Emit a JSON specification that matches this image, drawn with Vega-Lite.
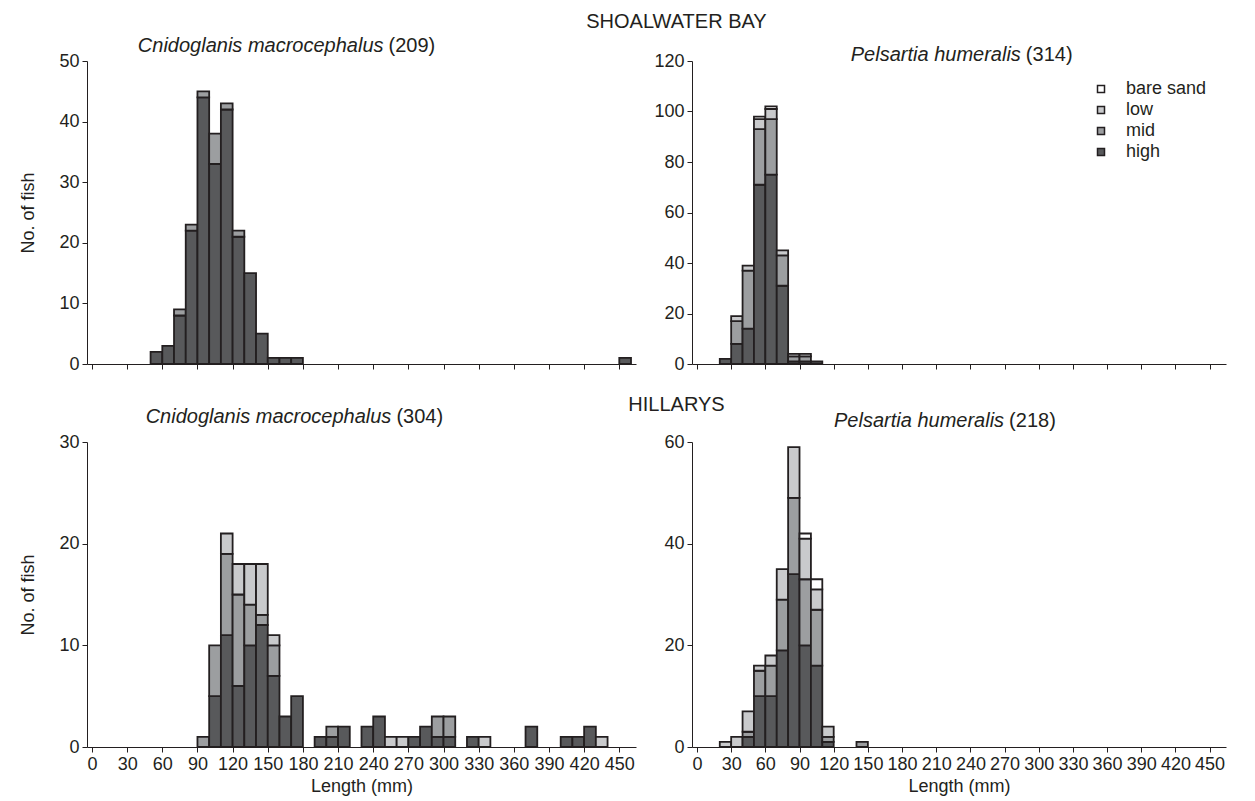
{
  "$schema": "https://vega.github.io/schema/vega-lite/v6.json",
  "background": "white",
  "padding": {"left": 19, "top": 12, "right": 5, "bottom": 2},
  "config": {
    "font": "Liberation Sans",
    "view": {"stroke": null},
    "axis": {"grid": false, "domainColor": "#231f20", "tickColor": "#231f20", "labelColor": "#231f20", "titleColor": "#231f20", "labelFontSize": 18, "titleFontSize": 18, "titleFontWeight": "normal", "tickSize": 5, "labelPadding": 3, "labelFlush": false, "labelOverlap": false},
    "text": {"color": "#231f20", "fontSize": 20, "font": "Liberation Sans"}
  },
  "datasets": {
    "sbC": [
      {"lo": 50, "hi": 60, "hab": "high", "n": 2},
      {"lo": 60, "hi": 70, "hab": "high", "n": 3},
      {"lo": 70, "hi": 80, "hab": "high", "n": 8}, {"lo": 70, "hi": 80, "hab": "mid", "n": 1},
      {"lo": 80, "hi": 90, "hab": "high", "n": 22}, {"lo": 80, "hi": 90, "hab": "mid", "n": 1},
      {"lo": 90, "hi": 100, "hab": "high", "n": 44}, {"lo": 90, "hi": 100, "hab": "mid", "n": 1},
      {"lo": 100, "hi": 110, "hab": "high", "n": 33}, {"lo": 100, "hi": 110, "hab": "mid", "n": 5},
      {"lo": 110, "hi": 120, "hab": "high", "n": 42}, {"lo": 110, "hi": 120, "hab": "mid", "n": 1},
      {"lo": 120, "hi": 130, "hab": "high", "n": 21}, {"lo": 120, "hi": 130, "hab": "mid", "n": 1},
      {"lo": 130, "hi": 140, "hab": "high", "n": 15},
      {"lo": 140, "hi": 150, "hab": "high", "n": 5},
      {"lo": 150, "hi": 160, "hab": "high", "n": 1},
      {"lo": 160, "hi": 170, "hab": "high", "n": 1},
      {"lo": 170, "hi": 180, "hab": "high", "n": 1},
      {"lo": 450, "hi": 460, "hab": "high", "n": 1}
    ],
    "sbP": [
      {"lo": 20, "hi": 30, "hab": "high", "n": 2},
      {"lo": 30, "hi": 40, "hab": "high", "n": 8}, {"lo": 30, "hi": 40, "hab": "mid", "n": 9}, {"lo": 30, "hi": 40, "hab": "low", "n": 2},
      {"lo": 40, "hi": 50, "hab": "high", "n": 14}, {"lo": 40, "hi": 50, "hab": "mid", "n": 23}, {"lo": 40, "hi": 50, "hab": "low", "n": 2},
      {"lo": 50, "hi": 60, "hab": "high", "n": 71}, {"lo": 50, "hi": 60, "hab": "mid", "n": 22}, {"lo": 50, "hi": 60, "hab": "low", "n": 4}, {"lo": 50, "hi": 60, "hab": "bare sand", "n": 1},
      {"lo": 60, "hi": 70, "hab": "high", "n": 75}, {"lo": 60, "hi": 70, "hab": "mid", "n": 22}, {"lo": 60, "hi": 70, "hab": "low", "n": 4}, {"lo": 60, "hi": 70, "hab": "bare sand", "n": 1},
      {"lo": 70, "hi": 80, "hab": "high", "n": 31}, {"lo": 70, "hi": 80, "hab": "mid", "n": 12}, {"lo": 70, "hi": 80, "hab": "low", "n": 2},
      {"lo": 80, "hi": 90, "hab": "high", "n": 1}, {"lo": 80, "hi": 90, "hab": "mid", "n": 2}, {"lo": 80, "hi": 90, "hab": "low", "n": 1},
      {"lo": 90, "hi": 100, "hab": "high", "n": 1}, {"lo": 90, "hi": 100, "hab": "mid", "n": 2}, {"lo": 90, "hi": 100, "hab": "low", "n": 1},
      {"lo": 100, "hi": 110, "hab": "high", "n": 1}
    ],
    "hC": [
      {"lo": 90, "hi": 100, "hab": "mid", "n": 1},
      {"lo": 100, "hi": 110, "hab": "high", "n": 5}, {"lo": 100, "hi": 110, "hab": "mid", "n": 5},
      {"lo": 110, "hi": 120, "hab": "high", "n": 11}, {"lo": 110, "hi": 120, "hab": "mid", "n": 8}, {"lo": 110, "hi": 120, "hab": "low", "n": 2},
      {"lo": 120, "hi": 130, "hab": "high", "n": 6}, {"lo": 120, "hi": 130, "hab": "mid", "n": 9}, {"lo": 120, "hi": 130, "hab": "low", "n": 3},
      {"lo": 130, "hi": 140, "hab": "high", "n": 10}, {"lo": 130, "hi": 140, "hab": "mid", "n": 4}, {"lo": 130, "hi": 140, "hab": "low", "n": 4},
      {"lo": 140, "hi": 150, "hab": "high", "n": 12}, {"lo": 140, "hi": 150, "hab": "mid", "n": 1}, {"lo": 140, "hi": 150, "hab": "low", "n": 5},
      {"lo": 150, "hi": 160, "hab": "high", "n": 7}, {"lo": 150, "hi": 160, "hab": "mid", "n": 3}, {"lo": 150, "hi": 160, "hab": "low", "n": 1},
      {"lo": 160, "hi": 170, "hab": "high", "n": 3},
      {"lo": 170, "hi": 180, "hab": "high", "n": 5},
      {"lo": 190, "hi": 200, "hab": "high", "n": 1},
      {"lo": 200, "hi": 210, "hab": "high", "n": 1}, {"lo": 200, "hi": 210, "hab": "mid", "n": 1},
      {"lo": 210, "hi": 220, "hab": "high", "n": 2},
      {"lo": 230, "hi": 240, "hab": "high", "n": 2},
      {"lo": 240, "hi": 250, "hab": "high", "n": 3},
      {"lo": 250, "hi": 260, "hab": "low", "n": 1},
      {"lo": 260, "hi": 270, "hab": "low", "n": 1},
      {"lo": 270, "hi": 280, "hab": "high", "n": 1},
      {"lo": 280, "hi": 290, "hab": "high", "n": 2},
      {"lo": 290, "hi": 300, "hab": "high", "n": 1}, {"lo": 290, "hi": 300, "hab": "mid", "n": 2},
      {"lo": 300, "hi": 310, "hab": "high", "n": 1}, {"lo": 300, "hi": 310, "hab": "mid", "n": 2},
      {"lo": 320, "hi": 330, "hab": "high", "n": 1},
      {"lo": 330, "hi": 340, "hab": "low", "n": 1},
      {"lo": 370, "hi": 380, "hab": "high", "n": 2},
      {"lo": 400, "hi": 410, "hab": "high", "n": 1},
      {"lo": 410, "hi": 420, "hab": "high", "n": 1},
      {"lo": 420, "hi": 430, "hab": "high", "n": 2},
      {"lo": 430, "hi": 440, "hab": "low", "n": 1}
    ],
    "hP": [
      {"lo": 20, "hi": 30, "hab": "low", "n": 1},
      {"lo": 30, "hi": 40, "hab": "low", "n": 2},
      {"lo": 40, "hi": 50, "hab": "high", "n": 2}, {"lo": 40, "hi": 50, "hab": "mid", "n": 1}, {"lo": 40, "hi": 50, "hab": "low", "n": 4},
      {"lo": 50, "hi": 60, "hab": "high", "n": 10}, {"lo": 50, "hi": 60, "hab": "mid", "n": 5}, {"lo": 50, "hi": 60, "hab": "low", "n": 1},
      {"lo": 60, "hi": 70, "hab": "high", "n": 10}, {"lo": 60, "hi": 70, "hab": "mid", "n": 6}, {"lo": 60, "hi": 70, "hab": "low", "n": 2},
      {"lo": 70, "hi": 80, "hab": "high", "n": 19}, {"lo": 70, "hi": 80, "hab": "mid", "n": 10}, {"lo": 70, "hi": 80, "hab": "low", "n": 6},
      {"lo": 80, "hi": 90, "hab": "high", "n": 34}, {"lo": 80, "hi": 90, "hab": "mid", "n": 15}, {"lo": 80, "hi": 90, "hab": "low", "n": 10},
      {"lo": 90, "hi": 100, "hab": "high", "n": 20}, {"lo": 90, "hi": 100, "hab": "mid", "n": 13}, {"lo": 90, "hi": 100, "hab": "low", "n": 8}, {"lo": 90, "hi": 100, "hab": "bare sand", "n": 1},
      {"lo": 100, "hi": 110, "hab": "high", "n": 16}, {"lo": 100, "hi": 110, "hab": "mid", "n": 11}, {"lo": 100, "hi": 110, "hab": "low", "n": 4}, {"lo": 100, "hi": 110, "hab": "bare sand", "n": 2},
      {"lo": 110, "hi": 120, "hab": "high", "n": 1}, {"lo": 110, "hi": 120, "hab": "mid", "n": 1}, {"lo": 110, "hi": 120, "hab": "low", "n": 2},
      {"lo": 140, "hi": 150, "hab": "mid", "n": 1}
    ]
  },
  "columns": 2,
  "bounds": "flush",
  "spacing": {"row": 78, "column": 56},
  "resolve": {"scale": {"color": "independent"}, "legend": {"color": "independent"}},
  "concat": [
    {
      "width": 549, "height": 303,
      "layer": [
        {
          "data": {"name": "sbC"},
          "transform": [{"calculate": "indexof(['high','mid','low','bare sand'], datum.hab)", "as": "ord"}],
          "mark": {"type": "bar", "orient": "vertical", "stroke": "#231f20", "strokeWidth": 1.8},
          "encoding": {
            "x": {"field": "lo", "type": "quantitative", "scale": {"domain": [0, 460], "nice": false, "zero": true}, "axis": {"values": [0,30,60,90,120,150,180,210,240,270,300,330,360,390,420,450], "tickCount": 20, "labels": false, "title": null}},
            "x2": {"field": "hi"},
            "y": {"field": "n", "type": "quantitative", "stack": "zero", "scale": {"domain": [0, 50], "nice": false}, "axis": {"values": [0,10,20,30,40,50], "title": "No. of fish", "titlePadding": 21}},
            "color": {"field": "hab", "type": "nominal", "scale": {"domain": ["bare sand", "low", "mid", "high"], "range": ["#ffffff", "#c9cacc", "#9c9ea0", "#58595b"]}, "legend": null},
            "order": {"field": "ord", "type": "quantitative"}
          }
        },
        {"data": {"values": [{}]}, "mark": {"type": "text", "text": "Cnidoglanis macrocephalus", "fontStyle": "italic", "align": "right", "baseline": "middle"}, "encoding": {"x": {"datum": 248.8}, "y": {"datum": 52.5}}},
        {"data": {"values": [{}]}, "mark": {"type": "text", "text": "(209)", "align": "left", "baseline": "middle", "dx": 5}, "encoding": {"x": {"datum": 248.8}, "y": {"datum": 52.5}}},
        {"data": {"values": [{}]}, "mark": {"type": "text", "text": "SHOALWATER BAY", "align": "center", "baseline": "middle"}, "encoding": {"x": {"datum": 498.8}, "y": {"datum": 56.4}}}
      ]
    },
    {
      "width": 534, "height": 303,
      "layer": [
        {
          "data": {"name": "sbP"},
          "transform": [{"calculate": "indexof(['high','mid','low','bare sand'], datum.hab)", "as": "ord"}],
          "mark": {"type": "bar", "orient": "vertical", "stroke": "#231f20", "strokeWidth": 1.8},
          "encoding": {
            "x": {"field": "lo", "type": "quantitative", "scale": {"domain": [0, 460], "nice": false}, "axis": {"values": [0,30,60,90,120,150,180,210,240,270,300,330,360,390,420,450], "tickCount": 20, "labels": false, "title": null}},
            "x2": {"field": "hi"},
            "y": {"field": "n", "type": "quantitative", "stack": "zero", "scale": {"domain": [0, 120], "nice": false}, "axis": {"values": [0,20,40,60,80,100,120], "title": null}},
            "color": {"field": "hab", "type": "nominal", "scale": {"domain": ["bare sand", "low", "mid", "high"], "range": ["#ffffff", "#c9cacc", "#9c9ea0", "#58595b"]},
              "legend": {"title": null, "orient": "top-right", "offset": 19, "padding": 0, "symbolType": "square", "symbolSize": 49, "symbolStrokeColor": "#231f20", "symbolStrokeWidth": 1.5, "labelFontSize": 18, "labelColor": "#231f20", "rowPadding": 3, "labelOffset": 16}},
            "order": {"field": "ord", "type": "quantitative"}
          }
        },
        {"data": {"values": [{}]}, "mark": {"type": "text", "text": "Pelsartia humeralis", "fontStyle": "italic", "align": "right", "baseline": "middle"}, "encoding": {"x": {"datum": 284.3}, "y": {"datum": 122.4}}},
        {"data": {"values": [{}]}, "mark": {"type": "text", "text": "(314)", "align": "left", "baseline": "middle", "dx": 5}, "encoding": {"x": {"datum": 284.3}, "y": {"datum": 122.4}}}
      ]
    },
    {
      "width": 549, "height": 305,
      "layer": [
        {
          "data": {"name": "hC"},
          "transform": [{"calculate": "indexof(['high','mid','low','bare sand'], datum.hab)", "as": "ord"}],
          "mark": {"type": "bar", "orient": "vertical", "stroke": "#231f20", "strokeWidth": 1.8},
          "encoding": {
            "x": {"field": "lo", "type": "quantitative", "scale": {"domain": [0, 460], "nice": false}, "axis": {"values": [0,30,60,90,120,150,180,210,240,270,300,330,360,390,420,450], "tickCount": 20, "title": "Length (mm)", "titlePadding": 4}},
            "x2": {"field": "hi"},
            "y": {"field": "n", "type": "quantitative", "stack": "zero", "scale": {"domain": [0, 30], "nice": false}, "axis": {"values": [0,10,20,30], "title": "No. of fish", "titlePadding": 21}},
            "color": {"field": "hab", "type": "nominal", "scale": {"domain": ["bare sand", "low", "mid", "high"], "range": ["#ffffff", "#c9cacc", "#9c9ea0", "#58595b"]}, "legend": null},
            "order": {"field": "ord", "type": "quantitative"}
          }
        },
        {"data": {"values": [{}]}, "mark": {"type": "text", "text": "Cnidoglanis macrocephalus", "fontStyle": "italic", "align": "right", "baseline": "middle"}, "encoding": {"x": {"datum": 255.5}, "y": {"datum": 32.46}}},
        {"data": {"values": [{}]}, "mark": {"type": "text", "text": "(304)", "align": "left", "baseline": "middle", "dx": 5}, "encoding": {"x": {"datum": 255.5}, "y": {"datum": 32.46}}},
        {"data": {"values": [{}]}, "mark": {"type": "text", "text": "HILLARYS", "align": "center", "baseline": "middle"}, "encoding": {"x": {"datum": 498.8}, "y": {"datum": 33.64}}}
      ]
    },
    {
      "width": 534, "height": 305,
      "layer": [
        {
          "data": {"name": "hP"},
          "transform": [{"calculate": "indexof(['high','mid','low','bare sand'], datum.hab)", "as": "ord"}],
          "mark": {"type": "bar", "orient": "vertical", "stroke": "#231f20", "strokeWidth": 1.8},
          "encoding": {
            "x": {"field": "lo", "type": "quantitative", "scale": {"domain": [0, 460], "nice": false}, "axis": {"values": [0,30,60,90,120,150,180,210,240,270,300,330,360,390,420,450], "tickCount": 20, "title": "Length (mm)", "titlePadding": 4}},
            "x2": {"field": "hi"},
            "y": {"field": "n", "type": "quantitative", "stack": "zero", "scale": {"domain": [0, 60], "nice": false}, "axis": {"values": [0,20,40,60], "title": null}},
            "color": {"field": "hab", "type": "nominal", "scale": {"domain": ["bare sand", "low", "mid", "high"], "range": ["#ffffff", "#c9cacc", "#9c9ea0", "#58595b"]}, "legend": null},
            "order": {"field": "ord", "type": "quantitative"}
          }
        },
        {"data": {"values": [{}]}, "mark": {"type": "text", "text": "Pelsartia humeralis", "fontStyle": "italic", "align": "right", "baseline": "middle"}, "encoding": {"x": {"datum": 269.6}, "y": {"datum": 64.1}}},
        {"data": {"values": [{}]}, "mark": {"type": "text", "text": "(218)", "align": "left", "baseline": "middle", "dx": 5}, "encoding": {"x": {"datum": 269.6}, "y": {"datum": 64.1}}}
      ]
    }
  ]
}
